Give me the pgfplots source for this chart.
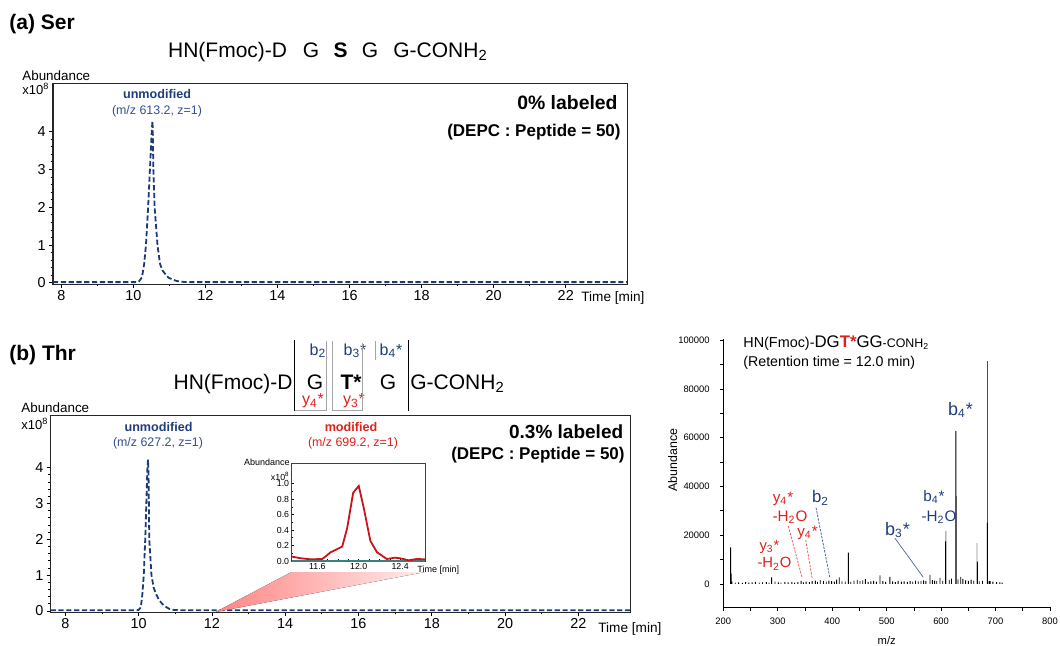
\documentclass[border=0pt]{standalone}
\usepackage{fontspec}
\setmainfont{Liberation Sans}
\usepackage{pgfplots}
\pgfplotsset{compat=1.18}
\definecolor{navy}{HTML}{1C3A78}
\definecolor{navyt}{HTML}{1F3D7D}
\definecolor{navyl}{HTML}{34508F}
\definecolor{redt}{HTML}{E0201B}
\definecolor{redc}{HTML}{C8141A}
\definecolor{leadb}{HTML}{4A64A0}
\definecolor{leadr}{HTML}{E86060}
\newcommand\fsz[1]{\fontsize{#1}{#1}\selectfont}
\pgfplotsset{
  chrom/.style={scale only axis, anchor=south west, tick align=outside,
    xtick pos=bottom, ytick pos=left, major tick length=2pt, minor tick length=1.2pt,
    tick style={black, line width=0.4pt}, axis line style={line width=0.5pt, black!85},
    xtick={8,10,...,22}, minor x tick num=1, ytick={0,1,2,3,4}, minor y tick num=4,
    ticklabel style={font=\fsz{7.2}}, /pgf/number format/assume math mode=true,
    xticklabel style={inner sep=1pt}, yticklabel style={inner sep=1.5pt}},
  chromline/.style={navy, line width=0.9pt, dash pattern=on 2.6pt off 1.3pt}
}
\begin{document}
\begin{tikzpicture}
\path[use as bounding box] (0,0) rectangle (530pt,322.5pt);

% ---------- panel (a)
\begin{axis}[chrom, at={(26.5pt,180.5pt)}, width=287pt, height=100pt,
  xmin=7.77, xmax=23.7, ymin=-0.03, ymax=5.26]
\addplot[chromline] coordinates {(7.77,0.02)(10.1,0.02)(10.15,0.03)(10.24,0.15)(10.3,0.5)(10.35,1.0)(10.41,2.0)(10.46,3.0)(10.51,4.0)(10.53,4.28)(10.54,4.0)(10.555,3.0)(10.59,2.0)(10.67,1.0)(10.74,0.5)(10.81,0.33)(10.88,0.24)(10.97,0.14)(11.06,0.1)(11.2,0.05)(11.4,0.025)(11.6,0.02)(23.7,0.02)};
\end{axis}

% ---------- panel (b)
\begin{axis}[chrom, at={(25.35pt,16.5pt)}, width=289.65pt, height=98.5pt,
  xmin=7.6, xmax=23.41, ymin=-0.03, ymax=5.47]
\addplot[chromline] coordinates {(7.6,0.02)(9.95,0.02)(10.0,0.03)(10.06,0.1)(10.1,0.45)(10.14,1.0)(10.18,2.0)(10.21,3.0)(10.24,4.0)(10.255,4.22)(10.27,3.8)(10.28,3.0)(10.29,2.0)(10.35,1.0)(10.41,0.65)(10.48,0.46)(10.56,0.3)(10.65,0.19)(10.75,0.11)(10.83,0.06)(10.95,0.03)(11.1,0.02)(23.41,0.02)};
\end{axis}

% zoom triangle
\begin{scope}[x=0.5pt,y=-0.5pt,yshift=322.5pt]
\fill[left color=red!48!white, right color=red!7!white] (215.6,612) -- (291.5,572) -- (425,572) -- cycle;
\end{scope}

% ---------- inset
\begin{axis}[scale only axis, anchor=south west, at={(145.75pt,42pt)}, width=66.75pt, height=48.75pt,
  xmin=11.35, xmax=12.64, ymin=0, ymax=1.26,
  axis background/.style={fill=white},
  tick align=inside, xtick pos=bottom, ytick pos=left,
  major tick length=1.2pt, minor tick length=0.8pt, tick style={black, line width=0.3pt},
  axis line style={line width=0.4pt, black!75},
  xtick={11.6,12.0,12.4}, xticklabels={11.6,12.0,12.4}, minor x tick num=3,
  ytick={0,0.2,0.4,0.6,0.8,1.0}, yticklabels={0.0,0.2,0.4,0.6,0.8,1.0}, minor y tick num=1,
  ticklabel style={font=\fsz{4.4}, inner sep=1pt}]
\addplot[teal!55!gray, line width=0.9pt] coordinates {(11.35,0.004)(12.64,0.004)};
\addplot[redc, line width=0.9pt] coordinates {(11.354,0.057)(11.44,0.035)(11.536,0.022)(11.648,0.026)(11.664,0.043)(11.728,0.113)(11.776,0.143)(11.84,0.187)(11.888,0.426)(11.946,0.883)(12.0,0.97)(12.048,0.687)(12.112,0.26)(12.176,0.113)(12.272,0.026)(12.352,0.043)(12.4,0.035)(12.48,0.009)(12.56,0.026)(12.64,0.022)};
\end{axis}

% ---------- MS/MS spectrum
\begin{axis}[scale only axis, anchor=south west, at={(361.65pt,19pt)}, width=163.35pt, height=134pt,
  xmin=200, xmax=800, ymin=-9500, ymax=100500,
  axis lines=left, axis line style={-, line width=0.5pt, black},
  tick align=outside, major tick length=1.8pt, minor tick length=1.8pt,
  tick style={black, line width=0.35pt},
  xtick={200,300,...,800}, minor x tick num=1,
  ytick={0,20000,40000,60000,80000,100000}, minor ytick={10000,30000,50000,70000,90000},
  scaled y ticks=false,
  yticklabel style={/pgf/number format/fixed, /pgf/number format/1000 sep={}, xshift=-1.5pt},
  ticklabel style={font=\fsz{4.7}}, /pgf/number format/assume math mode=true]
\addplot[ybar, bar width=0.45pt, fill=black!45, draw=none] coordinates {(608.8,21600)(628,36000)(666,16700)};
\addplot[ybar, bar width=0.45pt, fill=black!70, draw=none] coordinates {(684.5,91500)};
\addplot[ybar, bar width=0.45pt, fill=black, draw=none] coordinates {
(213.5,15000)(214.5,4200)(288.8,2700)(413,2700)(429.6,12800)(487.8,3500)(506,2900)(579.6,3700)(598,2500)(608.4,17400)(627,62700)(636,2900)(666.5,9100)(684.9,25000)(688,1200)
(216,900)(222,500)(228,600)(235,400)(241,700)(247,500)(253,600)(259,800)(266,500)(272,600)(279,700)(284,500)(295,900)(301,600)(306,500)(313,700)(319,600)(326,800)(331,500)(337,700)(343,1200)(347,600)(352,900)(358,700)(363,1100)(369,1300)(373,800)(378,1500)(384,1200)(389,900)(394,1300)(399,1100)(404,900)(408,1700)(418,1000)(424,900)(434,800)(440,1300)(446,1600)(451,1100)(456,1400)(461,1900)(466,800)(471,1000)(476,1200)(481,900)(493,1100)(498,800)(511,1000)(516,700)(521,1200)(527,900)(532,1000)(538,800)(543,1100)(548,900)(553,1300)(558,1000)(563,1200)(568,1400)(572,1100)(584,1500)(588,1300)(592,1100)(603,1200)(615,1600)(619,2200)(631,1800)(640,2000)(645,1400)(650,1200)(655,1700)(660,1300)(670,1000)(676,1200)(690,1100)(695,900)(702,700)(708,600)(712,500)};
\end{axis}

% ---------- texts and decorations (pixel coordinates)
\begin{scope}[x=0.5pt,y=-0.5pt,yshift=322.5pt]
% panel titles
\node[anchor=base west, inner sep=0, font=\fsz{10.5}\bfseries] at (9,29.5) {(a) Ser};
\node[anchor=base west, inner sep=0, font=\fsz{10.5}\bfseries] at (9,360.5) {(b) Thr};
% sequence (a)
\node[anchor=base east, inner sep=0, font=\fsz{10.5}] at (287.5,57) {HN(Fmoc)-D};
\node[anchor=base, inner sep=0, font=\fsz{10.5}] at (311,57) {G};
\node[anchor=base, inner sep=0, font=\fsz{10.5}\bfseries] at (340.6,57) {S};
\node[anchor=base, inner sep=0, font=\fsz{10.5}] at (370,57) {G};
\node[anchor=base west, inner sep=0, font=\fsz{10.5}] at (393,57) {G-CONH\textsubscript{2}};
% sequence (b)
\node[anchor=base east, inner sep=0, font=\fsz{10.5}] at (293,389.5) {HN(Fmoc)-D};
\node[anchor=base, inner sep=0, font=\fsz{10.5}] at (315,389.5) {G};
\node[anchor=base, inner sep=0, font=\fsz{10.5}\bfseries] at (351,389.5) {T*};
\node[anchor=base, inner sep=0, font=\fsz{10.5}] at (388,389.5) {G};
\node[anchor=base west, inner sep=0, font=\fsz{10.5}] at (410,389.5) {G-CONH\textsubscript{2}};
\node[anchor=base, inner sep=0, font=\fsz{8}, text=navyt] at (318,355) {b\textsubscript{2}};
\node[anchor=base, inner sep=0, font=\fsz{8}, text=navyt] at (355,355) {b\textsubscript{3}*};
\node[anchor=base, inner sep=0, font=\fsz{8}, text=navyt] at (391,355) {b\textsubscript{4}*};
\node[anchor=base, inner sep=0, font=\fsz{8}, text=redt] at (313,404.5) {y\textsubscript{4}*};
\node[anchor=base, inner sep=0, font=\fsz{8}, text=redt] at (354,404.5) {y\textsubscript{3}*};
\draw[black, line width=0.5pt] (294.7,340) -- (294.7,410.5);
\draw[black, line width=0.5pt] (408,340) -- (408,410.5);
\draw[black!35, line width=0.4pt] (294.7,410.5) -- (326.4,410.5) -- (326.4,341);
\draw[black!35, line width=0.4pt] (332,341) -- (332,410.5) -- (362.8,410.5) -- (362.8,343);
\draw[black!35, line width=0.4pt] (375.5,341) -- (375.5,360);
% axis annotations (a)
\node[anchor=base west, inner sep=0, font=\fsz{6.7}] at (22,80) {Abundance};
\node[anchor=base west, inner sep=0, font=\fsz{6.5}] at (22,94.5) {x10\textsuperscript{8}};
\node[anchor=west, inner sep=0, font=\fsz{6.8}] at (581,298) {Time [min]};
\node[inner sep=0, font=\fsz{6.3}\bfseries, text=navyt] at (157,94) {unmodified};
\node[inner sep=0, font=\fsz{6.2}, text=navyl] at (157,111) {(m/z 613.2, z=1)};
\node[anchor=east, inner sep=0, font=\fsz{9.7}\bfseries] at (618,103) {0\% labeled};
\node[anchor=east, inner sep=0, font=\fsz{8.5}\bfseries] at (621,132) {(DEPC : Peptide = 50)};
% axis annotations (b)
\node[anchor=base west, inner sep=0, font=\fsz{6.7}] at (21,412) {Abundance};
\node[anchor=base west, inner sep=0, font=\fsz{6.5}] at (21,429.5) {x10\textsuperscript{8}};
\node[anchor=west, inner sep=0, font=\fsz{6.8}] at (598,629) {Time [min]};
\node[inner sep=0, font=\fsz{6.3}\bfseries, text=navyt] at (158.5,427) {unmodified};
\node[inner sep=0, font=\fsz{6.2}, text=navyl] at (158,443) {(m/z 627.2, z=1)};
\node[inner sep=0, font=\fsz{6.3}\bfseries, text=redt] at (351,427) {modified};
\node[inner sep=0, font=\fsz{6.2}, text=redt] at (353,443) {(m/z 699.2, z=1)};
\node[anchor=east, inner sep=0, font=\fsz{9.5}\bfseries] at (623.6,432) {0.3\% labeled};
\node[anchor=east, inner sep=0, font=\fsz{8.5}\bfseries] at (625,455) {(DEPC : Peptide = 50)};
% inset annotations
\node[anchor=east, inner sep=0, font=\fsz{4.5}] at (290,462.5) {Abundance};
\node[anchor=east, inner sep=0, font=\fsz{4.4}] at (290,476) {x10\textsuperscript{8}};
\node[anchor=west, inner sep=0, font=\fsz{4.5}] at (417,570.5) {Time [min]};
% spectrum texts
\node[anchor=base west, inner sep=0, font=\fsz{7.2}] at (743,347) {HN(Fmoc)-{\fsz{8.4}DG\textcolor{redt}{\bfseries T*}GG}{\fsz{6.2}-CONH\textsubscript{2}}};
\node[anchor=base west, inner sep=0, font=\fsz{7.1}] at (743,366.5) {(Retention time = 12.0 min)};
\node[rotate=90, inner sep=0, font=\fsz{6.2}] at (672.7,460) {Abundance};
\node[inner sep=0, font=\fsz{5.6}] at (886.7,640) {m/z};
\node[inner sep=0, font=\fsz{9}, text=navyt] at (960.5,410) {b\textsubscript{4}*};
\node[inner sep=0, font=\fsz{7.6}, text=navyt] at (934,496.7) {b\textsubscript{4}*};
\node[inner sep=0, font=\fsz{7.6}, text=navyt] at (939,516.7) {-H\textsubscript{2}O};
\node[inner sep=0, font=\fsz{9}, text=navyt] at (897.5,530) {b\textsubscript{3}*};
\node[inner sep=0, font=\fsz{8.4}, text=navyt] at (820.5,498) {b\textsubscript{2}};
\node[inner sep=0, font=\fsz{7.6}, text=redt] at (783,499) {y\textsubscript{4}*};
\node[inner sep=0, font=\fsz{7.6}, text=redt] at (790,516.7) {-H\textsubscript{2}O};
\node[inner sep=0, font=\fsz{7.6}, text=redt] at (807.5,533) {y\textsubscript{4}*};
\node[inner sep=0, font=\fsz{7.4}, text=redt] at (769.5,547) {y\textsubscript{3}*};
\node[inner sep=0, font=\fsz{7.4}, text=redt] at (774.5,564) {-H\textsubscript{2}O};
\draw[leadb, line width=0.35pt] (895,538.3) -- (923.3,577.3);
\draw[leadb, line width=0.4pt, dash pattern=on 1.2pt off 0.6pt] (816,507.7) -- (830,578.3);
\draw[leadr, line width=0.4pt, dash pattern=on 1.2pt off 0.6pt] (788.3,526) -- (802.3,578.3);
\draw[leadr, line width=0.4pt, dash pattern=on 1.2pt off 0.6pt] (805.7,540) -- (812.3,579);
\end{scope}
\end{tikzpicture}
\end{document}
